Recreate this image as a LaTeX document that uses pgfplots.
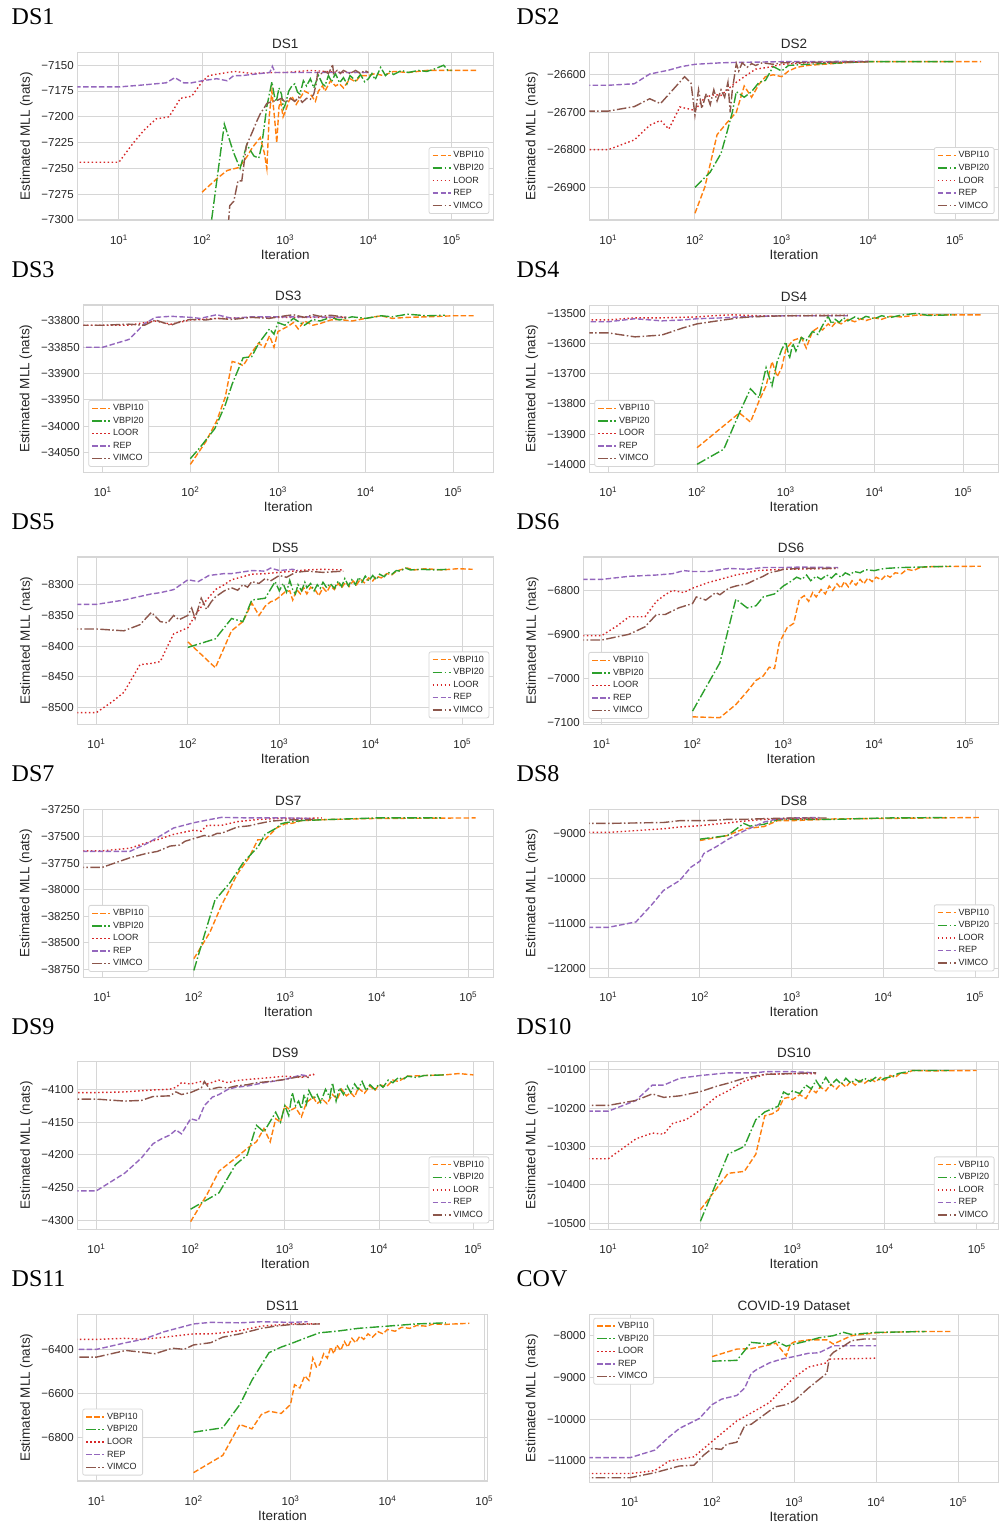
\documentclass[border=0pt]{standalone}
\usepackage{fontspec}
\setmainfont{Liberation Sans}
\newfontfamily\serif{Liberation Serif}
\usepackage{pgfplots}
\pgfplotsset{compat=1.18}
\definecolor{c1}{RGB}{255,127,14}
\definecolor{c2}{RGB}{44,160,44}
\definecolor{c3}{RGB}{214,39,40}
\definecolor{c4}{RGB}{148,103,189}
\definecolor{c5}{RGB}{140,86,75}
\definecolor{gridc}{RGB}{214,214,214}
\definecolor{txt}{RGB}{38,38,38}
\pgfplotsset{
  major grid style={line width=1pt, draw=gridc},
  axis line style={line width=1.25pt, draw=gridc},
  tick style={draw=none},
  scaled y ticks=false,
  tick label style={font=\fontsize{11.5}{12}\selectfont, text=txt},
  xticklabel style={yshift=-11pt},
  label style={font=\fontsize{13.5}{14}\selectfont, text=txt},
  xlabel style={yshift=2pt},
  ylabel style={yshift=2pt},
  title style={font=\fontsize{13.5}{14}\selectfont, text=txt, yshift=-5.5pt},
  legend cell align=left,
  legend image code/.code={\draw[#1] (0pt,0pt) -- (18pt,0pt);},
  legend style={font=\fontsize{9}{10}\selectfont, draw=gridc, line width=0.8pt, rounded corners=2pt, text=txt, row sep=0.8pt},
}
\tikzset{
 sv10/.style={color=c1, line width=1.4pt, dash pattern=on 5.5pt off 2.4pt},
 sv20/.style={color=c2, line width=1.4pt, dash pattern=on 9.6pt off 2.4pt on 1.5pt off 2.4pt},
 sloor/.style={color=c3, line width=1.4pt, dash pattern=on 1.5pt off 2.5pt},
 srep/.style={color=c4, line width=1.4pt, dash pattern=on 5.5pt off 2.4pt},
 svim/.style={color=c5, line width=1.4pt, dash pattern=on 9.6pt off 2.4pt on 1.5pt off 2.4pt},
}
\newcommand{\biglab}[3]{\node[anchor=base west, inner sep=0pt, text=black] at (#1pt,#2pt) {\serif\fontsize{24}{24}\selectfont #3};}
\begin{document}
\begin{tikzpicture}
\path[use as bounding box] (0pt,0pt) rectangle (999pt,-1525pt);
\biglab{11.5}{-25}{DS1}
\biglab{516.5}{-25}{DS2}
\biglab{11.5}{-277.3}{DS3}
\biglab{516.5}{-277.3}{DS4}
\biglab{11.5}{-529.6}{DS5}
\biglab{516.5}{-529.6}{DS6}
\biglab{11.5}{-781.9}{DS7}
\biglab{516.5}{-781.9}{DS8}
\biglab{11.5}{-1034.2}{DS9}
\biglab{516.5}{-1034.2}{DS10}
\biglab{11.5}{-1286.5}{DS11}
\biglab{516.5}{-1286.5}{COV}

% ---------------- DS1
\begin{axis}[scale only axis, xmode=log, anchor=north west, grid=major, xminorticks=false,
 xtick={10,100,1000,10000,100000},
 xticklabels={10\textsuperscript{1},10\textsuperscript{2},10\textsuperscript{3},10\textsuperscript{4},10\textsuperscript{5}},
 xlabel={Iteration}, ylabel={Estimated MLL (nats)},
 legend style={at={(1,0)}, anchor=south east, xshift=-4pt, yshift=6pt},
 at={(77.3pt,-52.7pt)}, width=416pt, height=167.3pt,
 title={DS1}, xmin=3.162, xmax=316228, ymin=-7300, ymax=-7137.8,
 ytick={-7300,-7275,-7250,-7225,-7200,-7175,-7150},
 yticklabels={−7300,−7275,−7250,−7225,−7200,−7175,−7150}]
\addplot[sv10] coordinates {(100,-7273) (150,-7260) (200,-7252) (280,-7249) (350,-7238) (400,-7230) (500,-7220) (560,-7235) (600,-7250) (640,-7200) (690,-7175) (740,-7200) (790,-7225) (840,-7190) (880,-7185) (940,-7200) (1000,-7195) (1100,-7185) (1200,-7180) (1350,-7188) (1500,-7182) (1700,-7175) (2000,-7178) (2300,-7185) (2500,-7175) (2800,-7170) (3000,-7175) (3500,-7165) (4000,-7170) (4500,-7168) (5000,-7172) (6000,-7163) (7000,-7166) (8000,-7160) (10000,-7160) (12000,-7158) (15000,-7160) (20000,-7156) (30000,-7157) (50000,-7155) (100000,-7155) (200000,-7155)};
\addplot[sv20] coordinates {(100,-7345) (130,-7300) (185,-7207) (240,-7235) (286,-7250) (345,-7227) (420,-7238) (480,-7240) (520,-7228) (600,-7190) (690,-7166) (740,-7180) (780,-7185) (840,-7172) (900,-7178) (950,-7192) (1000,-7188) (1100,-7175) (1200,-7170) (1300,-7168) (1400,-7176) (1500,-7178) (1650,-7165) (1800,-7170) (2000,-7163) (2200,-7172) (2500,-7160) (2800,-7168) (3000,-7170) (3300,-7160) (3600,-7166) (4000,-7158) (4500,-7167) (5000,-7162) (5500,-7168) (6000,-7160) (7000,-7165) (8000,-7159) (9000,-7166) (10000,-7163) (11000,-7158) (12000,-7164) (14000,-7152) (16000,-7160) (18000,-7156) (20000,-7159) (25000,-7155) (30000,-7157) (40000,-7155) (50000,-7156) (60000,-7154) (80000,-7150) (90000,-7155) (100000,-7155)};
\addplot[sloor] coordinates {(1,-7244) (10,-7244) (15,-7225) (20,-7213) (28,-7202) (40,-7200) (55,-7182) (75,-7180) (100,-7166) (120,-7160) (200,-7157) (250,-7156) (400,-7158) (700,-7157) (1000,-7157) (2000,-7155) (5000,-7157) (10000,-7157)};
\addplot[srep] coordinates {(1,-7171) (10,-7171) (20,-7169) (37,-7167) (47,-7162) (60,-7167) (75,-7167) (100,-7165) (150,-7163) (200,-7165) (240,-7160) (300,-7160) (500,-7158) (650,-7157) (700,-7151) (750,-7157) (1000,-7157) (2000,-7157) (5000,-7157) (10000,-7157)};
\addplot[svim] coordinates {(200,-7320) (215,-7286) (240,-7282) (270,-7262) (300,-7262) (340,-7228) (400,-7215) (450,-7205) (500,-7197) (550,-7192) (600,-7187) (700,-7185) (800,-7184) (900,-7182) (1000,-7186) (1150,-7182) (1300,-7185) (1450,-7181) (1600,-7186) (1800,-7182) (2000,-7183) (2200,-7178) (2350,-7168) (2450,-7157) (2700,-7158) (3000,-7156) (3300,-7158) (3600,-7152) (3700,-7149) (3800,-7158) (4200,-7155) (4600,-7158) (5000,-7155) (6000,-7158) (7000,-7155) (8000,-7158) (9000,-7155) (10000,-7157)};
\legend{VBPI10,VBPI20,LOOR,REP,VIMCO}
\end{axis}

% ---------------- DS2
\begin{axis}[scale only axis, xmode=log, anchor=north west, grid=major, xminorticks=false,
 xtick={10,100,1000,10000,100000},
 xticklabels={10\textsuperscript{1},10\textsuperscript{2},10\textsuperscript{3},10\textsuperscript{4},10\textsuperscript{5}},
 xlabel={Iteration}, ylabel={Estimated MLL (nats)},
 legend style={at={(1,0)}, anchor=south east, xshift=-4pt, yshift=6pt},
 at={(589.3pt,-52.7pt)}, width=409.2pt, height=167.3pt,
 title={DS2}, xmin=6.04, xmax=317700, ymin=-26988, ymax=-26541,
 ytick={-26900,-26800,-26700,-26600},
 yticklabels={−26900,−26800,−26700,−26600}]
\addplot[sv10] coordinates {(100,-26970) (130,-26900) (180,-26760) (230,-26730) (300,-26700) (370,-26630) (450,-26660) (550,-26625) (650,-26605) (800,-26600) (1000,-26605) (1200,-26590) (1500,-26580) (2000,-26575) (3000,-26572) (4000,-26570) (6000,-26567) (10000,-26565) (30000,-26565) (200000,-26565)};
\addplot[sv20] coordinates {(100,-26901) (150,-26860) (200,-26810) (230,-26760) (270,-26700) (300,-26645) (370,-26660) (450,-26645) (550,-26620) (650,-26615) (800,-26578) (1000,-26590) (1200,-26575) (2000,-26572) (3000,-26570) (5000,-26568) (10000,-26565) (100000,-26565)};
\addplot[sloor] coordinates {(1,-26800) (10,-26800) (20,-26774) (30,-26735) (40,-26722) (50,-26745) (67,-26686) (100,-26695) (130,-26660) (170,-26653) (200,-26655) (250,-26635) (300,-26620) (400,-26600) (500,-26585) (700,-26580) (1000,-26572) (2000,-26568) (10000,-26565)};
\addplot[srep] coordinates {(1,-26628) (10,-26628) (20,-26624) (30,-26598) (49,-26588) (70,-26578) (100,-26572) (200,-26568) (300,-26567) (1000,-26565) (10000,-26564)};
\addplot[svim] coordinates {(1,-26697) (10,-26697) (20,-26685) (30,-26664) (40,-26677) (76,-26605) (90,-26622) (100,-26708) (110,-26640) (120,-26690) (135,-26650) (150,-26680) (165,-26640) (180,-26670) (200,-26640) (220,-26660) (240,-26620) (255,-26700) (270,-26640) (300,-26570) (320,-26590) (350,-26568) (400,-26580) (450,-26570) (500,-26575) (600,-26568) (800,-26572) (1000,-26568) (2000,-26567) (10000,-26565)};
\legend{VBPI10,VBPI20,LOOR,REP,VIMCO}
\end{axis}

% ---------------- DS3
\begin{axis}[scale only axis, xmode=log, anchor=north west, grid=major, xminorticks=false,
 xtick={10,100,1000,10000,100000},
 xticklabels={10\textsuperscript{1},10\textsuperscript{2},10\textsuperscript{3},10\textsuperscript{4},10\textsuperscript{5}},
 xlabel={Iteration}, ylabel={Estimated MLL (nats)},
 legend style={at={(0,0)}, anchor=south west, xshift=5pt, yshift=5.5pt},
 at={(83.3pt,-305pt)}, width=410pt, height=167.3pt,
 title={DS3}, xmin=6.01, xmax=285800, ymin=-34088, ymax=-33769.5,
 ytick={-34050,-34000,-33950,-33900,-33850,-33800},
 yticklabels={−34050,−34000,−33950,−33900,−33850,−33800}]
\addplot[sv10] coordinates {(100,-34073) (150,-34030) (200,-33990) (250,-33945) (300,-33877) (350,-33880) (400,-33885) (500,-33860) (600,-33842) (700,-33850) (800,-33828) (900,-33850) (1000,-33820) (1300,-33810) (1500,-33803) (1700,-33815) (2000,-33800) (2500,-33808) (3000,-33805) (4000,-33798) (5000,-33797) (7000,-33800) (10000,-33795) (15000,-33790) (20000,-33795) (30000,-33793) (50000,-33792) (100000,-33790) (170000,-33790)};
\addplot[sv20] coordinates {(100,-34062) (130,-34040) (190,-34005) (250,-33960) (300,-33920) (400,-33870) (500,-33868) (600,-33843) (800,-33815) (900,-33825) (1000,-33803) (1200,-33808) (1500,-33795) (2000,-33808) (2500,-33797) (3000,-33800) (4000,-33793) (5000,-33798) (7000,-33792) (10000,-33795) (15000,-33790) (20000,-33792) (30000,-33787) (50000,-33790) (80000,-33789)};
\addplot[sloor] coordinates {(1,-33808) (10,-33808) (20,-33808) (30,-33803) (40,-33800) (60,-33806) (100,-33798) (200,-33795) (500,-33793) (1000,-33793) (6000,-33793)};
\addplot[srep] coordinates {(1,-33850) (10,-33850) (20,-33835) (30,-33805) (40,-33793) (60,-33791) (100,-33793) (130,-33795) (200,-33788) (300,-33795) (500,-33792) (1000,-33792) (2000,-33792) (6000,-33793)};
\addplot[svim] coordinates {(1,-33808) (10,-33808) (20,-33806) (30,-33808) (40,-33798) (60,-33808) (80,-33800) (100,-33797) (150,-33798) (200,-33795) (300,-33797) (500,-33793) (800,-33795) (1000,-33792) (1500,-33788) (2000,-33793) (2500,-33788) (3000,-33791) (4000,-33789) (6000,-33793)};
\legend{VBPI10,VBPI20,LOOR,REP,VIMCO}
\end{axis}

% ---------------- DS4
\begin{axis}[scale only axis, xmode=log, anchor=north west, grid=major, xminorticks=false,
 xtick={10,100,1000,10000,100000},
 xticklabels={10\textsuperscript{1},10\textsuperscript{2},10\textsuperscript{3},10\textsuperscript{4},10\textsuperscript{5}},
 xlabel={Iteration}, ylabel={Estimated MLL (nats)},
 legend style={at={(0,0)}, anchor=south west, xshift=5pt, yshift=5.5pt},
 at={(589.3pt,-305.3pt)}, width=409.2pt, height=167pt,
 title={DS4}, xmin=6.11, xmax=249500, ymin=-14026.5, ymax=-13473.5,
 ytick={-14000,-13900,-13800,-13700,-13600,-13500},
 yticklabels={−14000,−13900,−13800,−13700,−13600,−13500}]
\addplot[sv10] coordinates {(100,-13945) (300,-13830) (400,-13860) (500,-13790) (600,-13740) (700,-13660) (800,-13710) (900,-13680) (1000,-13620) (1200,-13590) (1500,-13580) (1700,-13615) (2000,-13560) (2300,-13548) (2600,-13555) (3000,-13535) (3300,-13545) (3700,-13528) (4200,-13535) (5000,-13520) (6000,-13528) (7000,-13518) (8000,-13524) (10000,-13515) (12000,-13520) (15000,-13510) (20000,-13512) (30000,-13506) (50000,-13505) (160000,-13505)};
\addplot[sv20] coordinates {(100,-14000) (200,-13950) (300,-13830) (400,-13750) (500,-13780) (600,-13680) (700,-13740) (800,-13660) (900,-13620) (1000,-13595) (1100,-13650) (1200,-13600) (1300,-13625) (1500,-13580) (1700,-13590) (2000,-13560) (2300,-13570) (2600,-13540) (3000,-13510) (3300,-13535) (3600,-13520) (4000,-13530) (4500,-13515) (5000,-13525) (6000,-13512) (7000,-13520) (8000,-13510) (10000,-13518) (12000,-13508) (15000,-13514) (20000,-13506) (30000,-13500) (40000,-13507) (80000,-13505)};
\addplot[sloor] coordinates {(1,-13522) (10,-13522) (20,-13515) (40,-13515) (100,-13512) (150,-13508) (250,-13505) (500,-13508) (1000,-13508) (2000,-13507) (5000,-13507)};
\addplot[srep] coordinates {(1,-13528) (10,-13528) (20,-13518) (40,-13525) (70,-13522) (100,-13518) (200,-13515) (300,-13512) (500,-13510) (1000,-13508) (5000,-13508)};
\addplot[svim] coordinates {(1,-13565) (10,-13565) (20,-13578) (40,-13572) (70,-13548) (100,-13535) (200,-13522) (300,-13515) (400,-13512) (600,-13510) (1000,-13508) (2000,-13508) (5000,-13507)};
\legend{VBPI10,VBPI20,LOOR,REP,VIMCO}
\end{axis}

% ---------------- DS5
\begin{axis}[scale only axis, xmode=log, anchor=north west, grid=major, xminorticks=false,
 xtick={10,100,1000,10000,100000},
 xticklabels={10\textsuperscript{1},10\textsuperscript{2},10\textsuperscript{3},10\textsuperscript{4},10\textsuperscript{5}},
 xlabel={Iteration}, ylabel={Estimated MLL (nats)},
 legend style={at={(1,0)}, anchor=south east, xshift=-4pt, yshift=6pt},
 at={(77.3pt,-557pt)}, width=416pt, height=167.3pt,
 title={DS5}, xmin=6.19, xmax=218300, ymin=-8527, ymax=-8255,
 ytick={-8500,-8450,-8400,-8350,-8300},
 yticklabels={−8500,−8450,−8400,−8350,−8300}]
\addplot[sv10] coordinates {(100,-8393) (200,-8435) (300,-8375) (400,-8360) (500,-8330) (600,-8350) (700,-8335) (800,-8328) (900,-8325) (1000,-8320) (1150,-8312) (1300,-8310) (1400,-8325) (1550,-8308) (1700,-8315) (1850,-8305) (2000,-8315) (2200,-8304) (2500,-8310) (2700,-8318) (3000,-8305) (3300,-8312) (3600,-8302) (4000,-8308) (4400,-8298) (4800,-8305) (5300,-8296) (5800,-8303) (6400,-8294) (7000,-8300) (7700,-8291) (8500,-8297) (9500,-8289) (10500,-8294) (11500,-8286) (13000,-8289) (15000,-8282) (17000,-8284) (19000,-8278) (22000,-8275) (25000,-8273) (30000,-8276) (40000,-8274) (60000,-8276) (90000,-8274) (130000,-8275)};
\addplot[sv20] coordinates {(100,-8402) (200,-8388) (300,-8355) (400,-8360) (500,-8325) (700,-8322) (900,-8295) (1000,-8310) (1100,-8298) (1200,-8312) (1300,-8293) (1400,-8308) (1500,-8315) (1600,-8300) (1750,-8310) (1900,-8296) (2000,-8305) (2200,-8298) (2400,-8310) (2600,-8300) (2800,-8306) (3000,-8296) (3300,-8305) (3600,-8298) (4000,-8306) (4400,-8294) (4800,-8303) (5200,-8290) (5700,-8302) (6200,-8292) (6800,-8300) (7400,-8288) (8000,-8296) (8700,-8286) (9500,-8294) (10500,-8285) (11500,-8292) (12500,-8283) (14000,-8287) (15500,-8280) (17000,-8283) (19000,-8277) (21000,-8278) (24000,-8273) (27000,-8276) (35000,-8275) (50000,-8276) (70000,-8275)};
\addplot[sloor] coordinates {(1,-8508) (10,-8508) (15,-8490) (20,-8475) (30,-8430) (40,-8428) (50,-8425) (60,-8400) (70,-8380) (100,-8370) (120,-8350) (150,-8330) (200,-8308) (250,-8300) (300,-8292) (400,-8287) (500,-8283) (700,-8282) (1000,-8280) (2000,-8276) (3000,-8275) (5000,-8276)};
\addplot[srep] coordinates {(1,-8332) (10,-8332) (20,-8325) (40,-8315) (50,-8313) (70,-8308) (100,-8292) (130,-8295) (170,-8285) (250,-8282) (300,-8282) (500,-8277) (700,-8278) (800,-8273) (1000,-8277) (1400,-8275) (1600,-8277)};
\addplot[svim] coordinates {(1,-8372) (10,-8372) (20,-8375) (30,-8365) (40,-8345) (50,-8360) (60,-8362) (70,-8350) (80,-8357) (100,-8350) (110,-8338) (120,-8355) (140,-8322) (160,-8340) (180,-8328) (200,-8320) (250,-8310) (300,-8305) (350,-8309) (400,-8300) (450,-8304) (500,-8295) (600,-8298) (700,-8290) (800,-8294) (1000,-8285) (1200,-8288) (1500,-8280) (2000,-8278) (3000,-8280) (5000,-8278)};
\legend{VBPI10,VBPI20,LOOR,REP,VIMCO}
\end{axis}

% ---------------- DS6
\begin{axis}[scale only axis, xmode=log, anchor=north west, grid=major, xminorticks=false,
 xtick={10,100,1000,10000,100000},
 xticklabels={10\textsuperscript{1},10\textsuperscript{2},10\textsuperscript{3},10\textsuperscript{4},10\textsuperscript{5}},
 xlabel={Iteration}, ylabel={Estimated MLL (nats)},
 legend style={at={(0,0)}, anchor=south west, xshift=5pt, yshift=5.5pt},
 at={(583.3pt,-557pt)}, width=415.2pt, height=167.3pt,
 title={DS6}, xmin=6.27, xmax=233900, ymin=-7105, ymax=-6724,
 ytick={-7100,-7000,-6900,-6800},
 yticklabels={−7100,−7000,−6900,−6800}]
\addplot[sv10] coordinates {(100,-7088) (200,-7090) (300,-7060) (400,-7030) (500,-7005) (600,-6995) (700,-6975) (800,-6978) (900,-6920) (1100,-6885) (1300,-6875) (1500,-6820) (1700,-6812) (1900,-6825) (2100,-6805) (2300,-6815) (2600,-6798) (2900,-6808) (3200,-6790) (3500,-6800) (3900,-6785) (4300,-6795) (4700,-6780) (5200,-6792) (5700,-6778) (6300,-6788) (7000,-6775) (7700,-6785) (8500,-6772) (9500,-6780) (10500,-6770) (12000,-6776) (13500,-6765) (15000,-6770) (17000,-6760) (20000,-6762) (23000,-6752) (27000,-6755) (32000,-6748) (40000,-6746) (150000,-6745)};
\addplot[sv20] coordinates {(100,-7075) (200,-6965) (300,-6820) (400,-6840) (500,-6835) (600,-6815) (800,-6808) (1000,-6790) (1200,-6780) (1400,-6770) (1600,-6775) (1800,-6765) (2000,-6778) (2300,-6768) (2600,-6775) (3000,-6765) (3400,-6772) (3800,-6762) (4300,-6770) (4800,-6760) (5400,-6765) (6000,-6757) (7000,-6760) (8000,-6753) (10000,-6755) (13000,-6750) (20000,-6748) (70000,-6745)};
\addplot[sloor] coordinates {(1,-6903) (10,-6903) (15,-6880) (20,-6860) (30,-6860) (40,-6825) (50,-6810) (60,-6800) (80,-6805) (100,-6795) (150,-6782) (200,-6775) (300,-6765) (400,-6760) (500,-6755) (1000,-6752) (4000,-6750)};
\addplot[srep] coordinates {(1,-6775) (10,-6775) (20,-6768) (40,-6765) (60,-6762) (80,-6755) (100,-6757) (150,-6757) (250,-6750) (400,-6752) (600,-6748) (1000,-6748) (1500,-6747) (4000,-6748)};
\addplot[svim] coordinates {(1,-6913) (10,-6913) (20,-6900) (30,-6883) (40,-6855) (50,-6855) (70,-6840) (100,-6830) (110,-6815) (140,-6822) (180,-6805) (200,-6810) (250,-6795) (300,-6790) (400,-6785) (500,-6775) (600,-6768) (700,-6760) (900,-6755) (1000,-6752) (1500,-6750) (4000,-6750)};
\legend{VBPI10,VBPI20,LOOR,REP,VIMCO}
\end{axis}

% ---------------- DS7
\begin{axis}[scale only axis, xmode=log, anchor=north west, grid=major, xminorticks=false,
 xtick={10,100,1000,10000,100000},
 xticklabels={10\textsuperscript{1},10\textsuperscript{2},10\textsuperscript{3},10\textsuperscript{4},10\textsuperscript{5}},
 xlabel={Iteration}, ylabel={Estimated MLL (nats)},
 legend style={at={(0,0)}, anchor=south west, xshift=5pt, yshift=5.5pt},
 at={(83.3pt,-809.3pt)}, width=410pt, height=168pt,
 title={DS7}, xmin=6.19, xmax=187500, ymin=-38825, ymax=-37244,
 ytick={-38750,-38500,-38250,-38000,-37750,-37500,-37250},
 yticklabels={−38750,−38500,−38250,−38000,−37750,−37500,−37250}]
\addplot[sv10] coordinates {(100,-38650) (150,-38400) (200,-38150) (300,-37850) (400,-37700) (500,-37530) (600,-37530) (800,-37420) (1000,-37380) (1200,-37375) (1500,-37350) (3000,-37340) (10000,-37330) (120000,-37325)};
\addplot[sv20] coordinates {(100,-38760) (130,-38430) (170,-38100) (250,-37930) (350,-37740) (500,-37600) (600,-37480) (800,-37420) (900,-37380) (1000,-37370) (1500,-37350) (3000,-37340) (10000,-37325) (50000,-37325)};
\addplot[sloor] coordinates {(1,-37635) (10,-37635) (20,-37610) (30,-37560) (40,-37530) (60,-37480) (100,-37440) (120,-37450) (140,-37395) (200,-37395) (300,-37360) (500,-37340) (800,-37330) (1500,-37330) (2500,-37325)};
\addplot[srep] coordinates {(1,-37640) (10,-37640) (20,-37640) (30,-37570) (40,-37510) (60,-37420) (100,-37370) (150,-37340) (200,-37320) (400,-37325) (1000,-37325) (2000,-37330)};
\addplot[svim] coordinates {(1,-37790) (10,-37790) (20,-37700) (30,-37660) (40,-37640) (55,-37590) (70,-37580) (80,-37545) (100,-37520) (130,-37490) (150,-37500) (180,-37470) (200,-37470) (300,-37410) (400,-37400) (500,-37380) (700,-37355) (1000,-37345) (2000,-37340)};
\legend{VBPI10,VBPI20,LOOR,REP,VIMCO}
\end{axis}

% ---------------- DS8
\begin{axis}[scale only axis, xmode=log, anchor=north west, grid=major, xminorticks=false,
 xtick={10,100,1000,10000,100000},
 xticklabels={10\textsuperscript{1},10\textsuperscript{2},10\textsuperscript{3},10\textsuperscript{4},10\textsuperscript{5}},
 xlabel={Iteration}, ylabel={Estimated MLL (nats)},
 legend style={at={(1,0)}, anchor=south east, xshift=-4pt, yshift=6pt},
 at={(589.3pt,-809.3pt)}, width=409.2pt, height=168pt,
 title={DS8}, xmin=6.21, xmax=180300, ymin=-12200, ymax=-8467,
 ytick={-12000,-11000,-10000,-9000},
 yticklabels={−12000,−11000,−10000,−9000}]
\addplot[sv10] coordinates {(100,-9160) (200,-9050) (300,-8900) (500,-8850) (700,-8720) (1000,-8720) (3000,-8680) (10000,-8670) (100000,-8650) (110000,-8650)};
\addplot[sv20] coordinates {(100,-9130) (200,-9050) (300,-8780) (350,-8840) (500,-8800) (700,-8700) (1000,-8690) (3000,-8690) (10000,-8660) (50000,-8650)};
\addplot[sloor] coordinates {(1,-8980) (10,-8980) (40,-8900) (60,-8860) (100,-8830) (200,-8770) (300,-8730) (500,-8690) (1000,-8680) (2000,-8680)};
\addplot[srep] coordinates {(1,-11090) (10,-11090) (20,-10970) (30,-10580) (40,-10270) (60,-10050) (80,-9750) (100,-9620) (110,-9450) (150,-9300) (200,-9140) (300,-8950) (500,-8750) (700,-8680) (1000,-8660) (2000,-8650)};
\addplot[svim] coordinates {(1,-8780) (10,-8780) (40,-8760) (60,-8720) (100,-8720) (150,-8710) (200,-8690) (300,-8690) (500,-8675) (1000,-8660) (2000,-8660) (2400,-8660)};
\legend{VBPI10,VBPI20,LOOR,REP,VIMCO}
\end{axis}

% ---------------- DS9
\begin{axis}[scale only axis, xmode=log, anchor=north west, grid=major, xminorticks=false,
 xtick={10,100,1000,10000,100000},
 xticklabels={10\textsuperscript{1},10\textsuperscript{2},10\textsuperscript{3},10\textsuperscript{4},10\textsuperscript{5}},
 xlabel={Iteration}, ylabel={Estimated MLL (nats)},
 legend style={at={(1,0)}, anchor=south east, xshift=-4pt, yshift=6pt},
 at={(77.3pt,-1061.3pt)}, width=416pt, height=168pt,
 title={DS9}, xmin=6.28, xmax=162900, ymin=-4313.7, ymax=-4057.3,
 ytick={-4300,-4250,-4200,-4150,-4100},
 yticklabels={−4300,−4250,−4200,−4150,−4100}]
\addplot[sv10] coordinates {(100,-4302) (150,-4260) (200,-4225) (300,-4205) (400,-4190) (500,-4180) (600,-4160) (700,-4180) (800,-4145) (900,-4150) (1000,-4125) (1150,-4132) (1300,-4128) (1500,-4142) (1700,-4120) (2000,-4112) (2200,-4122) (2500,-4115) (2800,-4122) (3200,-4108) (3600,-4115) (4000,-4100) (4500,-4110) (5000,-4105) (5500,-4112) (6000,-4098) (7000,-4106) (8000,-4095) (9000,-4102) (10000,-4093) (12000,-4096) (14000,-4086) (16000,-4088) (20000,-4080) (30000,-4079) (50000,-4078) (70000,-4076) (100000,-4078)};
\addplot[sv20] coordinates {(100,-4283) (200,-4258) (300,-4215) (400,-4200) (500,-4155) (600,-4165) (800,-4135) (900,-4150) (1000,-4125) (1100,-4140) (1200,-4105) (1300,-4125) (1400,-4118) (1500,-4130) (1600,-4108) (1700,-4122) (1800,-4102) (2000,-4115) (2200,-4108) (2400,-4120) (2700,-4100) (3000,-4112) (3200,-4090) (3500,-4118) (3800,-4098) (4200,-4108) (4600,-4095) (5000,-4105) (5500,-4092) (6000,-4100) (6600,-4088) (7300,-4102) (8000,-4093) (9000,-4100) (10000,-4092) (11000,-4097) (12500,-4086) (14000,-4090) (16000,-4082) (18000,-4085) (20000,-4080) (25000,-4082) (30000,-4079) (50000,-4078)};
\addplot[sloor] coordinates {(1,-4105) (10,-4105) (20,-4104) (40,-4101) (60,-4100) (70,-4097) (80,-4090) (100,-4092) (130,-4088) (150,-4092) (200,-4086) (250,-4090) (300,-4087) (400,-4085) (600,-4083) (1000,-4080) (1500,-4082) (2000,-4077) (2100,-4080)};
\addplot[srep] coordinates {(1,-4255) (10,-4255) (20,-4228) (30,-4205) (40,-4183) (50,-4175) (60,-4170) (70,-4162) (80,-4168) (100,-4145) (120,-4148) (140,-4125) (170,-4112) (200,-4108) (250,-4100) (300,-4097) (400,-4095) (600,-4090) (1000,-4085) (1500,-4078) (1800,-4080)};
\addplot[svim] coordinates {(1,-4115) (10,-4115) (20,-4118) (30,-4117) (40,-4111) (60,-4110) (70,-4104) (80,-4108) (100,-4105) (130,-4098) (140,-4088) (160,-4100) (200,-4097) (250,-4098) (300,-4095) (400,-4093) (500,-4090) (700,-4088) (1000,-4085) (1500,-4080) (1800,-4082)};
\legend{VBPI10,VBPI20,LOOR,REP,VIMCO}
\end{axis}

% ---------------- DS10
\begin{axis}[scale only axis, xmode=log, anchor=north west, grid=major, xminorticks=false,
 xtick={10,100,1000,10000,100000},
 xticklabels={10\textsuperscript{1},10\textsuperscript{2},10\textsuperscript{3},10\textsuperscript{4},10\textsuperscript{5}},
 xlabel={Iteration}, ylabel={Estimated MLL (nats)},
 legend style={at={(1,0)}, anchor=south east, xshift=-4pt, yshift=6pt},
 at={(589.3pt,-1061.3pt)}, width=409.2pt, height=168pt,
 title={DS10}, xmin=6.22, xmax=172500, ymin=-10516, ymax=-10078,
 ytick={-10500,-10400,-10300,-10200,-10100},
 yticklabels={−10500,−10400,−10300,−10200,−10100}]
\addplot[sv10] coordinates {(100,-10465) (200,-10370) (300,-10365) (400,-10320) (500,-10220) (600,-10215) (700,-10205) (800,-10175) (900,-10172) (1000,-10178) (1200,-10165) (1400,-10175) (1600,-10150) (1800,-10160) (2000,-10145) (2300,-10155) (2600,-10138) (3000,-10150) (3400,-10135) (3800,-10145) (4300,-10130) (4800,-10140) (5400,-10128) (6000,-10136) (7000,-10124) (8000,-10132) (9000,-10120) (10000,-10128) (11500,-10115) (13000,-10120) (15000,-10108) (17000,-10110) (20000,-10102) (30000,-10103) (100000,-10102)};
\addplot[sv20] coordinates {(100,-10495) (200,-10320) (300,-10300) (400,-10230) (500,-10210) (700,-10195) (800,-10158) (900,-10165) (1000,-10155) (1200,-10162) (1400,-10140) (1600,-10150) (1800,-10128) (2000,-10145) (2300,-10120) (2600,-10140) (3000,-10125) (3400,-10138) (3800,-10122) (4300,-10135) (4800,-10125) (5400,-10132) (6000,-10122) (7000,-10130) (8000,-10120) (9000,-10128) (10000,-10122) (12000,-10118) (14000,-10110) (17000,-10106) (20000,-10102) (50000,-10102)};
\addplot[sloor] coordinates {(1,-10332) (10,-10332) (20,-10280) (30,-10265) (40,-10268) (50,-10240) (70,-10230) (100,-10205) (150,-10170) (200,-10155) (300,-10130) (500,-10112) (1000,-10110) (1800,-10110)};
\addplot[srep] coordinates {(1,-10208) (10,-10208) (20,-10180) (30,-10140) (40,-10140) (60,-10122) (100,-10115) (200,-10108) (400,-10108) (500,-10105) (1000,-10105) (1800,-10108)};
\addplot[svim] coordinates {(1,-10193) (10,-10193) (20,-10180) (30,-10163) (40,-10172) (60,-10168) (100,-10157) (150,-10143) (200,-10135) (300,-10122) (500,-10112) (1000,-10110) (1800,-10108)};
\legend{VBPI10,VBPI20,LOOR,REP,VIMCO}
\end{axis}

% ---------------- DS11
\begin{axis}[scale only axis, xmode=log, anchor=north west, grid=major, xminorticks=false,
 xtick={10,100,1000,10000,100000},
 xticklabels={10\textsuperscript{1},10\textsuperscript{2},10\textsuperscript{3},10\textsuperscript{4},10\textsuperscript{5}},
 xlabel={Iteration}, ylabel={Estimated MLL (nats)},
 legend style={at={(0,0)}, anchor=south west, xshift=5pt, yshift=5.5pt},
 at={(77.3pt,-1314.3pt)}, width=410.4pt, height=166.7pt,
 title={DS11}, xmin=6.31, xmax=108400, ymin=-6996, ymax=-6241.5,
 ytick={-6800,-6600,-6400},
 yticklabels={−6800,−6600,−6400}]
\addplot[sv10] coordinates {(100,-6958) (200,-6880) (300,-6740) (400,-6760) (500,-6695) (600,-6680) (800,-6690) (1000,-6650) (1100,-6560) (1250,-6575) (1400,-6520) (1550,-6540) (1700,-6440) (1850,-6480) (2000,-6470) (2200,-6420) (2400,-6440) (2600,-6390) (2800,-6420) (3000,-6380) (3300,-6405) (3600,-6365) (3900,-6390) (4300,-6350) (4700,-6370) (5200,-6340) (5700,-6355) (6300,-6330) (7000,-6345) (8000,-6320) (9000,-6330) (10000,-6310) (12000,-6318) (14000,-6300) (17000,-6305) (20000,-6292) (25000,-6295) (30000,-6285) (40000,-6287) (70000,-6282)};
\addplot[sv20] coordinates {(100,-6775) (200,-6755) (300,-6650) (400,-6540) (600,-6415) (800,-6390) (1000,-6375) (1500,-6345) (2000,-6325) (3000,-6318) (5000,-6305) (10000,-6295) (20000,-6285) (40000,-6280)};
\addplot[sloor] coordinates {(1,-6355) (10,-6355) (20,-6350) (30,-6355) (50,-6345) (100,-6330) (150,-6330) (200,-6325) (300,-6315) (500,-6295) (1000,-6285) (2000,-6285)};
\addplot[srep] coordinates {(1,-6400) (10,-6400) (20,-6370) (30,-6355) (50,-6320) (100,-6285) (150,-6278) (300,-6280) (500,-6275) (1000,-6278) (1500,-6275)};
\addplot[svim] coordinates {(1,-6435) (10,-6435) (20,-6405) (40,-6420) (60,-6395) (80,-6400) (100,-6380) (150,-6370) (200,-6345) (300,-6330) (500,-6305) (700,-6295) (1000,-6288) (2000,-6285)};
\legend{VBPI10,VBPI20,LOOR,REP,VIMCO}
\end{axis}

% ---------------- COV
\begin{axis}[scale only axis, xmode=log, anchor=north west, grid=major, xminorticks=false,
 xtick={10,100,1000,10000,100000},
 xticklabels={10\textsuperscript{1},10\textsuperscript{2},10\textsuperscript{3},10\textsuperscript{4},10\textsuperscript{5}},
 xlabel={Iteration}, ylabel={Estimated MLL (nats)},
 legend style={at={(0,1)}, anchor=north west, xshift=4pt, yshift=-3.5pt},
 at={(589.3pt,-1314.3pt)}, width=409.2pt, height=168pt,
 title={COVID-19 Dataset}, xmin=3.19, xmax=309000, ymin=-11510, ymax=-7488,
 ytick={-11000,-10000,-9000,-8000},
 yticklabels={−11000,−10000,−9000,−8000}]
\addplot[sv10] coordinates {(100,-8500) (200,-8320) (300,-8310) (500,-8220) (600,-8180) (800,-8480) (900,-8200) (1000,-8150) (1500,-8100) (2500,-8100) (3000,-8200) (5000,-8000) (10000,-7930) (30000,-7900) (80000,-7900)};
\addplot[sv20] coordinates {(100,-8610) (200,-8590) (300,-8160) (500,-8200) (600,-8130) (800,-8250) (1000,-8200) (1500,-8120) (2000,-8050) (3000,-8000) (4000,-7920) (5000,-7970) (10000,-7920) (40000,-7900)};
\addplot[sloor] coordinates {(1,-11300) (10,-11300) (20,-11230) (30,-11000) (60,-10900) (100,-10530) (200,-10040) (300,-9850) (500,-9600) (700,-9300) (1000,-9000) (1500,-8750) (2500,-8650) (2600,-8560) (5000,-8550) (9500,-8540) (10000,-8480)};
\addplot[srep] coordinates {(1,-10920) (10,-10920) (20,-10740) (30,-10420) (40,-10220) (70,-9980) (100,-9650) (130,-9520) (200,-9430) (250,-9250) (300,-8900) (350,-8810) (500,-8650) (700,-8560) (1000,-8500) (1500,-8420) (2000,-8410) (3000,-8240) (10000,-8240)};
\addplot[svim] coordinates {(1,-11400) (10,-11400) (20,-11280) (40,-11120) (60,-11100) (80,-10850) (100,-10700) (130,-10720) (150,-10600) (200,-10550) (250,-10150) (300,-10120) (500,-9800) (600,-9700) (800,-9650) (1000,-9560) (1500,-9250) (2500,-8900) (2700,-8500) (3000,-8400) (4000,-8250) (5000,-8120) (7000,-8080) (10000,-8080)};
\legend{VBPI10,VBPI20,LOOR,REP,VIMCO}
\end{axis}
\end{tikzpicture}
\end{document}
